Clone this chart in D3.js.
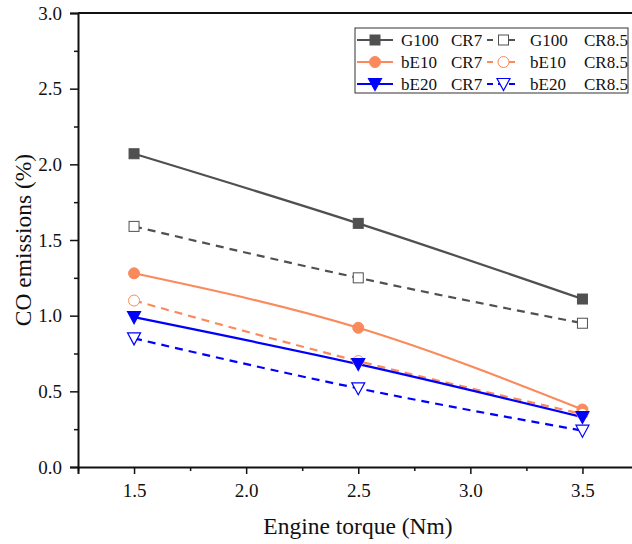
<!DOCTYPE html>
<html lang="en">
<head>
    <meta charset="utf-8">
    <title>CO emissions</title>
    <script src="https://cdn.jsdelivr.net/npm/d3@7"></script>
    <style>
        body { margin: 0; background: #fff; }
        svg text { font-family: 'Liberation Serif', 'Times New Roman', Times, serif; fill: #111; }
    </style>
</head>
<body>
    <script type="text/javascript">
        // data
        var torque = [1.5, 2.5, 3.5];
        var g100_cr7 = [2.07, 1.61, 1.11];
        var g100_cr85 = [1.59, 1.25, 0.95];
        var be10_cr7 = [1.28, 0.92, 0.38];
        var be10_cr85 = [1.10, 0.70, 0.35];
        var be20_cr7 = [0.99, 0.68, 0.33];
        var be20_cr85 = [0.85, 0.52, 0.24];
        var xTicks = [1.5, 2.0, 2.5, 3.0, 3.5];
        var yTicks = [0.0, 0.5, 1.0, 1.5, 2.0, 2.5, 3.0];

        var width = 632;
        var height = 544;
        var serif = "'Liberation Serif', 'Times New Roman', Times, serif";

        var series = [
            { fuel: "G100", cr: "CR7", values: g100_cr7, color: "#505050", dash: null, marker: "square", filled: true },
            { fuel: "G100", cr: "CR8.5", values: g100_cr85, color: "#505050", dash: "8,6", marker: "square", filled: false },
            { fuel: "bE10", cr: "CR7", values: be10_cr7, color: "#fa8a5c", dash: null, marker: "circle", filled: true },
            { fuel: "bE10", cr: "CR8.5", values: be10_cr85, color: "#fa8a5c", dash: "8,6", marker: "circle", filled: false },
            { fuel: "bE20", cr: "CR7", values: be20_cr7, color: "#0000ff", dash: null, marker: "triangle", filled: true },
            { fuel: "bE20", cr: "CR8.5", values: be20_cr85, color: "#0000ff", dash: "8,6", marker: "triangle", filled: false }
        ];

        var svg = d3.select("body").append("svg")
            .attr("width", width)
            .attr("height", height)
            .attr("font-family", serif);

        var x = d3.scaleLinear().domain([1.25, 3.75]).range([78, 638.5]);
        var y = d3.scaleLinear().domain([0, 3]).range([467, 13]);

        var line = d3.line()
            .x(function (d, i) { return x(torque[i]); })
            .y(function (d) { return y(d); })
            .curve(d3.curveMonotoneX);

        // lines
        svg.selectAll(".series")
            .data(series)
            .enter()
            .append("path")
            .attr("class", "series")
            .attr("d", function (s) { return line(s.values); })
            .attr("fill", "none")
            .attr("stroke", function (s) { return s.color; })
            .attr("stroke-width", 2.2)
            .attr("stroke-dasharray", function (s) { return s.dash; });

        function drawMarker(g, s, cx, cy) {
            var fill = s.filled ? s.color : "#fff";
            if (s.marker == "square") {
                g.append("rect")
                    .attr("x", cx - 5).attr("y", cy - 5)
                    .attr("width", 10).attr("height", 10)
                    .attr("fill", fill)
                    .attr("stroke", s.color)
                    .attr("stroke-width", 1);
            } else if (s.marker == "circle") {
                g.append("circle")
                    .attr("cx", cx).attr("cy", cy).attr("r", 5.5)
                    .attr("fill", fill)
                    .attr("stroke", s.color)
                    .attr("stroke-width", 1);
            } else {
                g.append("path")
                    .attr("d", "M" + (cx - 6.5) + "," + (cy - 5.5) + "L" + (cx + 6.5) + "," + (cy - 5.5) + "L" + cx + "," + (cy + 6.5) + "Z")
                    .attr("fill", fill)
                    .attr("stroke", s.color)
                    .attr("stroke-width", 1.2);
            }
        }

        var markers = svg.append("g");
        series.forEach(function (s) {
            s.values.forEach(function (v, i) {
                drawMarker(markers, s, x(torque[i]), y(v));
            });
        });

        // axes
        var xAxis = svg.append("g")
            .attr("transform", "translate(0," + y(0) + ")")
            .call(d3.axisBottom(x).tickValues(d3.range(1.25, 3.8, 0.25)).tickSize(7)
                .tickFormat(function (d) { return xTicks.indexOf(+d.toFixed(2)) >= 0 ? d3.format(".1f")(d) : ""; }));
        xAxis.selectAll(".tick line")
            .attr("y2", function (d) { return xTicks.indexOf(+d.toFixed(2)) >= 0 ? 7 : 4; });

        var yAxis = svg.append("g")
            .attr("transform", "translate(" + x(1.25) + ",0)")
            .call(d3.axisLeft(y).tickValues(d3.range(0, 3.01, 0.25)).tickSize(8)
                .tickFormat(function (d) { return yTicks.indexOf(+d.toFixed(2)) >= 0 ? d3.format(".1f")(d) : ""; }));
        yAxis.selectAll(".tick line")
            .attr("x2", function (d) { return yTicks.indexOf(+d.toFixed(2)) >= 0 ? -8 : -4; });

        [xAxis, yAxis].forEach(function (a) {
            a.attr("font-family", serif).attr("font-size", 19);
            a.select(".domain").attr("stroke", "#111").attr("stroke-width", 2);
            a.selectAll(".tick line").attr("stroke", "#111").attr("stroke-width", 1.5);
            a.selectAll("text").attr("fill", "#111");
        });
        xAxis.selectAll("text").attr("y", 17);
        yAxis.selectAll("text").attr("x", -16);

        // top frame line
        svg.append("line")
            .attr("x1", x(1.25)).attr("x2", width)
            .attr("y1", y(3)).attr("y2", y(3))
            .attr("stroke", "#111").attr("stroke-width", 2);

        // axis titles
        svg.append("text")
            .attr("x", 358).attr("y", 534)
            .attr("text-anchor", "middle")
            .attr("font-size", 23.5)
            .text("Engine torque (Nm)");

        svg.append("text")
            .attr("transform", "translate(31,240)rotate(-90)")
            .attr("text-anchor", "middle")
            .attr("font-size", 23.5)
            .text("CO emissions (%)");

        // legend
        var legend = svg.append("g");
        legend.append("rect")
            .attr("x", 355).attr("y", 28)
            .attr("width", 273).attr("height", 65)
            .attr("fill", "#fff")
            .attr("stroke", "#333")
            .attr("stroke-width", 1);

        series.forEach(function (s, i) {
            var row = Math.floor(i / 2);
            var col = i % 2;
            var cy = 40 + row * 22;
            var x0 = col == 0 ? 357 : 487;
            var x1 = col == 0 ? 393 : 520;
            legend.append("line")
                .attr("x1", x0).attr("x2", x1)
                .attr("y1", cy).attr("y2", cy)
                .attr("stroke", s.color)
                .attr("stroke-width", 2)
                .attr("stroke-dasharray", s.dash ? "6,5" : null);
            drawMarker(legend, s, (x0 + x1) / 2, cy);
            legend.append("text")
                .attr("x", col == 0 ? 401 : 530).attr("y", cy + 6)
                .attr("font-size", 17)
                .text(s.fuel);
            legend.append("text")
                .attr("x", col == 0 ? 451 : 584).attr("y", cy + 6)
                .attr("font-size", 17)
                .text(s.cr);
        });
    </script>
</body>
</html>
